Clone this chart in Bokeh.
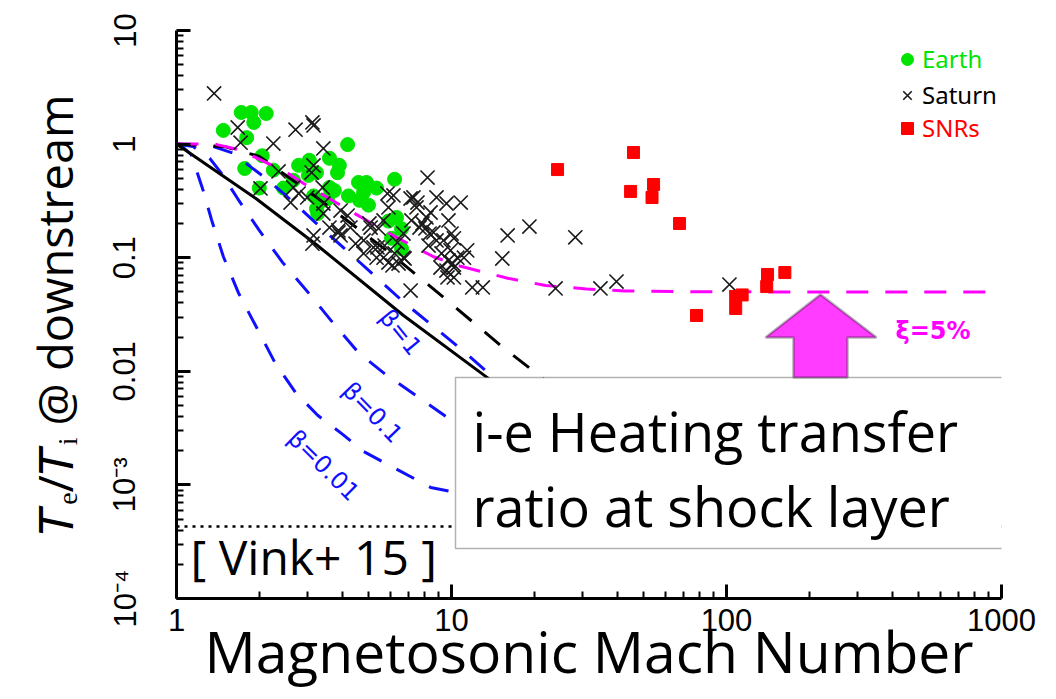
from bokeh.plotting import figure
from bokeh.models import (Label, BoxAnnotation, PolyAnnotation, Span, Legend, LegendItem,
                          FixedTicker, CustomJSTickFormatter)
from bokeh.embed import file_html
from bokeh.resources import INLINE

# ---------------- data ----------------
earth_M = [1.48, 1.72, 1.87, 1.91, 2.12, 1.80, 1.77, 2.05, 2.00, 2.25, 2.45, 2.78, 3.04, 2.66, 3.02,
           4.19, 3.60, 3.91, 3.85, 3.23, 6.21, 4.59, 4.91, 5.34, 4.22, 3.60, 4.63, 4.99, 4.79, 3.42,
           3.23, 6.31, 5.90, 6.58, 6.05, 6.58, 3.75, 3.26, 3.15, 3.54]
earth_ratio = [1.32, 1.90, 1.90, 1.55, 1.86, 1.14, 0.61, 0.79, 0.41, 0.59, 0.41, 0.65, 0.72, 0.48, 0.53,
               0.99, 0.75, 0.65, 0.56, 0.56, 0.49, 0.46, 0.46, 0.41, 0.35, 0.415, 0.32, 0.29, 0.375, 0.32,
               0.27, 0.226, 0.21, 0.18, 0.148, 0.12, 0.39, 0.245, 0.35, 0.33]

saturn_M = [1.37, 1.67, 1.71, 2.25, 2.71, 3.12, 3.15, 3.42, 3.15, 2.35, 2.02, 2.66, 2.78, 2.60, 2.99,
            3.40, 3.42, 3.95, 4.19, 4.29, 3.88, 3.95, 3.15, 3.12, 5.85, 8.18, 10.8, 7.10, 7.52, 8.39,
            7.84, 8.04, 8.60, 9.35, 9.92, 10.5, 10.1, 9.12, 9.67, 11.4, 7.10, 6.69, 6.10, 5.66, 5.38,
            4.79, 4.48, 5.08, 5.66, 6.69, 6.36, 3.88, 3.60, 5.03, 5.43, 4.79, 5.20, 5.71, 5.34, 5.90,
            6.21, 6.42, 6.75, 7.27, 7.46, 8.11, 7.15, 7.65, 8.32, 8.82, 8.25, 9.20, 9.75, 10.2, 9.59,
            8.82, 9.59, 9.75, 10.0, 6.15, 5.90, 10.2, 11.1, 10.2, 11.9, 13.0, 16.0, 19.2, 15.3, 28.2,
            23.9, 34.8, 39.8, 102.5, 3.10, 3.42]
saturn_ratio = [2.79, 1.40, 1.03, 1.01, 1.34, 1.55, 1.46, 0.915, 0.648, 0.574, 0.407, 0.415, 0.367, 0.306, 0.339,
                0.415, 0.300, 0.260, 0.235, 0.184, 0.167, 0.157, 0.157, 0.133, 0.367, 0.508, 0.306, 0.332, 0.306, 0.250,
                0.200, 0.181, 0.167, 0.142, 0.116, 0.100, 0.0889, 0.082, 0.067, 0.116, 0.0514, 0.100, 0.0854, 0.100, 0.123,
                0.109, 0.133, 0.184, 0.213, 0.163, 0.136, 0.174, 0.184, 0.200, 0.181, 0.142, 0.123, 0.128, 0.100, 0.0907,
                0.109, 0.0889, 0.0984, 0.339, 0.277, 0.226, 0.213, 0.184, 0.163, 0.142, 0.128, 0.109, 0.0945, 0.082, 0.0771,
                0.339, 0.300, 0.213, 0.163, 0.353, 0.277, 0.148, 0.100, 0.067, 0.0547, 0.0547, 0.157, 0.188, 0.0984, 0.151,
                0.0536, 0.0536, 0.0617, 0.058, 0.562, 0.245]

snr_M = [24.3, 45.9, 44.8, 54.3, 53.6, 67.5, 77.8, 108, 108, 114, 140, 141, 163]
snr_ratio = [0.597, 0.843, 0.383, 0.441, 0.339, 0.20, 0.031, 0.0357, 0.0455, 0.047, 0.0557, 0.0712, 0.074]

xi5_M = [1, 1.2, 1.4, 1.63, 1.9, 2.2, 2.55, 2.9, 3.6, 4.8, 6.4, 8.6, 10.8, 16, 22, 31, 43, 70, 150, 1000]
xi5_ratio = [1, 1.0, 0.99, 0.91, 0.78, 0.66, 0.55, 0.45, 0.33, 0.22, 0.148, 0.102, 0.084, 0.066, 0.057,
             0.053, 0.051, 0.0502, 0.05, 0.05]

solid_M = [1, 1.95, 3.23, 6.69, 13.5, 30]
solid_ratio = [1, 0.33, 0.13, 0.031, 0.0088, 0.0019]

dashed_M = [1, 1.5, 2, 3.23, 6.0, 9.65, 15.4, 19.7, 40]
dashed_ratio = [1, 0.95, 0.78, 0.34, 0.109, 0.042, 0.0162, 0.0102, 0.0027]

beta1_M = [1, 1.2, 1.36, 1.61, 1.83, 2.09, 2.49, 3.2, 4.12, 5.3, 6.75, 8.6, 11.0, 13.8, 30]
beta1_ratio = [1, 0.99, 0.95, 0.83, 0.65, 0.51, 0.355, 0.204, 0.118, 0.068, 0.040, 0.0248, 0.0152, 0.0094, 0.0019]

beta01_M = [1, 1.15, 1.32, 1.46, 1.67, 2.0, 2.43, 3.02, 3.72, 4.59, 5.75, 7.45, 9.7, 15, 25]
beta01_ratio = [1, 0.95, 0.75, 0.55, 0.33, 0.174, 0.091, 0.049, 0.0264, 0.0146, 0.0094, 0.0061, 0.0039, 0.0031, 0.0029]

beta001_M = [1, 1.06, 1.13, 1.19, 1.25, 1.34, 1.48, 1.68, 2.29, 2.71, 3.26, 4.01, 4.79, 6.16, 8.4, 12, 20]
beta001_ratio = [1, 0.93, 0.81, 0.56, 0.39, 0.217, 0.1025, 0.049, 0.0117, 0.0065, 0.0041, 0.0028, 0.00197,
                 0.00142, 0.00095, 0.0008, 0.00075]

vink_limit = 4.3e-4

x_ticks = [1, 10, 100, 1000]
y_ticks = [1e-4, 1e-3, 1e-2, 1e-1, 1, 10]
y_tick_labels = {"-4": "10⁻⁴", "-3": "10⁻³", "-2": "0.01", "-1": "0.1", "0": "1", "1": "10"}

# ---------------- figure ----------------
p = figure(width=1056, height=699, x_axis_type="log", y_axis_type="log",
           x_range=(1, 1000), y_range=(1e-4, 10),
           output_backend="svg", toolbar_location=None,
           min_border_left=176, min_border_right=55, min_border_top=30, min_border_bottom=101)
p.outline_line_color = None
p.xgrid.visible = False
p.ygrid.visible = False
p.background_fill_color = "white"
p.border_fill_color = "white"

p.xaxis.ticker = FixedTicker(ticks=x_ticks,
                             minor_ticks=[k * 10 ** d for d in range(0, 3) for k in range(2, 10)])
p.yaxis.ticker = FixedTicker(ticks=y_ticks,
                             minor_ticks=[k * 10.0 ** d for d in range(-4, 1) for k in range(2, 10)])
p.xaxis.formatter = CustomJSTickFormatter(code="return String(Math.round(tick));")
p.yaxis.formatter = CustomJSTickFormatter(args=dict(m=y_tick_labels),
                                          code="return m[String(Math.round(Math.log10(tick)))];")
for ax in (p.xaxis[0], p.yaxis[0]):
    ax.axis_line_width = 3
    ax.major_tick_in = 14
    ax.major_tick_out = 0
    ax.minor_tick_in = 7
    ax.minor_tick_out = 0
    ax.major_tick_line_width = 3
    ax.minor_tick_line_width = 2
    ax.major_label_text_font = "Liberation Sans"
    ax.major_label_text_font_size = "31px"
    ax.major_label_text_color = "black"
    ax.axis_label_text_font = "Open Sans"
    ax.axis_label_text_font_style = "normal"
    ax.axis_label_text_color = "black"
p.xaxis.major_label_standoff = 10
p.yaxis.major_label_standoff = 34
p.yaxis.major_label_orientation = "vertical"

p.xaxis.axis_label = "Magnetosonic Mach Number"
p.xaxis.axis_label_text_font_size = "57px"
p.xaxis.axis_label_standoff = -22

p.yaxis.axis_label = "𝑇ₑ/𝑇ᵢ @ downstream"
p.yaxis.axis_label_text_font_size = "47px"
p.yaxis.axis_label_standoff = 18

# ---------------- data marks ----------------
r_earth = p.scatter(earth_M, earth_ratio, marker="circle", size=14,
                    fill_color="#00e400", line_color="#00e400")

BLUE = "#1010ff"
MAG = "#ff00ff"
p.line(beta001_M, beta001_ratio, line_color=BLUE, line_width=3, line_dash="20 17")
p.line(beta01_M, beta01_ratio, line_color=BLUE, line_width=3, line_dash="20 17")
p.line(beta1_M, beta1_ratio, line_color=BLUE, line_width=3, line_dash="20 17")
p.line(solid_M, solid_ratio, line_color="black", line_width=3)
p.line(dashed_M, dashed_ratio, line_color="black", line_width=3, line_dash="20 17")
p.line(xi5_M, xi5_ratio, line_color=MAG, line_width=3, line_dash="22 17")

r_sat = p.scatter(saturn_M, saturn_ratio, marker="x", size=20, line_color="#1a1a1a", line_width=1.6)
r_snr = p.scatter(snr_M, snr_ratio, marker="square", size=12, fill_color="#ff0000", line_color="#ff0000")

# ---------------- annotations (screen units relative to the frame) ----------------
p.add_layout(Span(location=vink_limit, dimension="width", line_color="black",
                  line_width=2.5, line_dash="3 5"))

p.add_layout(BoxAnnotation(left=279, right=827, bottom=50, top=221,
                           left_units="screen", right_units="screen",
                           bottom_units="screen", top_units="screen",
                           fill_color="white", fill_alpha=1.0, line_color="black", line_width=1.5))

p.add_layout(PolyAnnotation(xs=[644, 700, 671, 671, 617, 617, 589],
                            ys=[304, 261, 261, 221, 221, 261, 261],
                            xs_units="screen", ys_units="screen",
                            fill_color="#ff3cff", fill_alpha=1.0, line_color="black", line_width=2.5))


def lab(x, y, text, size, color="black", font="Open Sans", style="normal", angle=0.0,
        align="left", baseline="middle"):
    p.add_layout(Label(x=x, y=y, x_units="screen", y_units="screen", text=text,
                       text_font=font, text_font_size=size, text_color=color,
                       text_font_style=style, angle=angle, text_align=align,
                       text_baseline=baseline))


lab(296, 168, "i-e Heating transfer", "54px")
lab(296, 93, "ratio at shock layer", "54px")
lab(14, 42, "[ Vink+ 15 ]", "48px")
lab(719, 268, "ξ=5%", "24px", color=MAG, font="DejaVu Sans", style="bold")
lab(224, 266, "β=1", "24px", color=BLUE, font="DejaVu Sans", angle=-0.89, align="center")
lab(196, 186, "β=0.1", "24px", color=BLUE, font="DejaVu Sans", angle=-0.80, align="center")
lab(147, 133, "β=0.01", "24px", color=BLUE, font="DejaVu Sans", angle=-0.78, align="center")


# ---------------- legend ----------------
def add_leg(r, label, color, loc):
    leg = Legend(items=[LegendItem(label=label, renderers=[r])], location=loc,
                 label_text_color=color, label_text_font="Noto Sans", label_text_font_size="24px",
                 glyph_width=30, glyph_height=30, label_height=30, label_standoff=0,
                 padding=0, margin=0, spacing=0, border_line_color=None,
                 background_fill_alpha=0)
    p.add_layout(leg)


add_leg(r_earth, "Earth", "#00e400", (716, 523))
add_leg(r_sat, "Saturn", "black", (716, 487))
add_leg(r_snr, "SNRs", "#ff0000", (716, 454))

open("out.html", "w").write(file_html(p, INLINE))
